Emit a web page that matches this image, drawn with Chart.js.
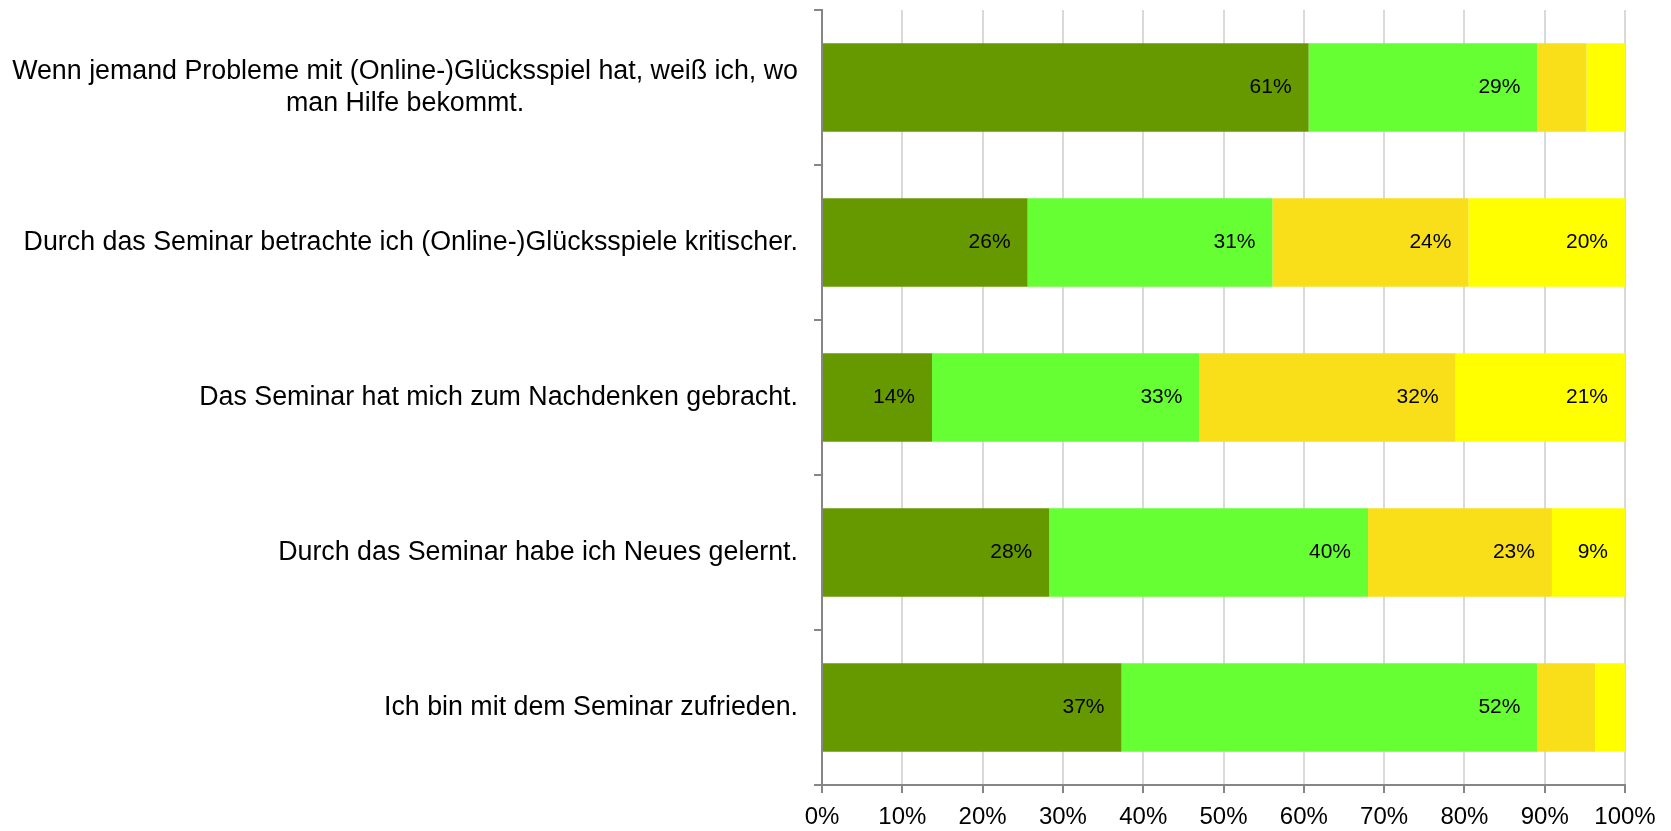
<!DOCTYPE html>
<html lang="de">
<head>
<meta charset="utf-8">
<title>Seminar-Bewertung</title>
<script src="https://cdn.jsdelivr.net/npm/chart.js@4"></script>
<style>
  html, body { margin: 0; padding: 0; background: #fff; }
  #chart { display: block; }
</style>
</head>
<body>
<canvas id="chart" width="1671" height="831"></canvas>
<script>
// Aussagen (von oben nach unten)
const statements = [
    ["Wenn jemand Probleme mit (Online-)Glücksspiel hat, weiß ich, wo", "man Hilfe bekommt."],
    "Durch das Seminar betrachte ich (Online-)Glücksspiele kritischer.",
    "Das Seminar hat mich zum Nachdenken gebracht.",
    "Durch das Seminar habe ich Neues gelernt.",
    "Ich bin mit dem Seminar zufrieden."
];

// Anteile in % je Antwortstufe
const stufe1 = [60.6, 25.6, 13.7, 28.3, 37.3];
const stufe2 = [28.5, 30.5, 33.3, 39.7, 51.8];
const stufe3 = [6.1, 24.4, 31.9, 22.9, 7.2];
const stufe4 = [4.8, 19.5, 21.1, 9.1, 3.7];

const xTicks = [0, 10, 20, 30, 40, 50, 60, 70, 80, 90, 100];

const colors = ["#669900", "#66FF33", "#F9DE1A", "#FFFF00"];

Chart.defaults.font.family = '"Liberation Sans", Arial, sans-serif';
Chart.defaults.color = "#000";

// Beschriftung der Kategorien (mehrzeilig zentriert, rechtsbündig am Block)
const categoryLabels = {
    id: "categoryLabels",
    afterDraw(chart) {
        const y = chart.scales.y;
        const ctx = chart.ctx;
        const right = chart.chartArea.left - 24;
        const lh = 31.6;
        ctx.save();
        ctx.font = '26.8px "Liberation Sans", Arial, sans-serif';
        ctx.fillStyle = "#000";
        ctx.textAlign = "center";
        ctx.textBaseline = "middle";
        statements.forEach((s, i) => {
            const lines = Array.isArray(s) ? s : [s];
            const w = Math.max(...lines.map(l => ctx.measureText(l).width));
            const cx = right - w / 2;
            const cy = y.getPixelForValue(i);
            lines.forEach((l, k) => {
                ctx.fillText(l, cx, cy + (k - (lines.length - 1) / 2) * lh);
            });
        });
        ctx.restore();
    }
};

// Prozentwerte innen am Segmentende
const valueLabels = {
    id: "valueLabels",
    afterDatasetsDraw(chart) {
        const ctx = chart.ctx;
        ctx.save();
        ctx.font = '21px "Liberation Sans", Arial, sans-serif';
        ctx.fillStyle = "#000";
        ctx.textAlign = "right";
        ctx.textBaseline = "middle";
        chart.data.datasets.forEach((ds, d) => {
            chart.getDatasetMeta(d).data.forEach((bar, i) => {
                const v = ds.data[i];
                if (v < 8) return;
                ctx.fillText(Math.round(v) + "%", bar.x - 17, bar.y);
            });
        });
        ctx.restore();
    }
};

const series = [stufe1, stufe2, stufe3, stufe4];

new Chart(document.getElementById("chart").getContext("2d"), {
    type: "bar",
    data: {
        labels: statements.map(s => Array.isArray(s) ? s.join(" ") : s),
        datasets: series.map((data, i) => ({
            label: "Stufe " + (i + 1),
            data: data,
            backgroundColor: colors[i],
            borderWidth: 0,
            categoryPercentage: 1,
            barPercentage: 0.571
        }))
    },
    options: {
        indexAxis: "y",
        responsive: false,
        animation: false,
        layout: { padding: { top: 10, right: 46, bottom: 0, left: 0 } },
        plugins: {
            legend: { display: false },
            tooltip: { enabled: false }
        },
        scales: {
            x: {
                stacked: true,
                min: 0,
                max: 100,
                afterBuildTicks: s => { s.ticks = xTicks.map(v => ({ value: v })); },
                afterFit: s => { s.height = 46; },
                ticks: {
                    callback: v => v + "%",
                    font: { size: 24 },
                    color: "#000",
                    padding: 10,
                    maxRotation: 0
                },
                grid: {
                    color: "#D9D9D9",
                    lineWidth: 2,
                    tickColor: "#868686",
                    tickLength: 8
                },
                border: { color: "#868686", width: 2 }
            },
            y: {
                stacked: true,
                afterFit: s => { s.width = 822; },
                ticks: { color: "rgba(0,0,0,0)", font: { size: 10 } },
                grid: {
                    offset: true,
                    drawOnChartArea: false,
                    color: "#868686",
                    lineWidth: 2,
                    tickLength: 8
                },
                border: { color: "#868686", width: 2 }
            }
        }
    },
    plugins: [categoryLabels, valueLabels]
});
</script>
</body>
</html>
